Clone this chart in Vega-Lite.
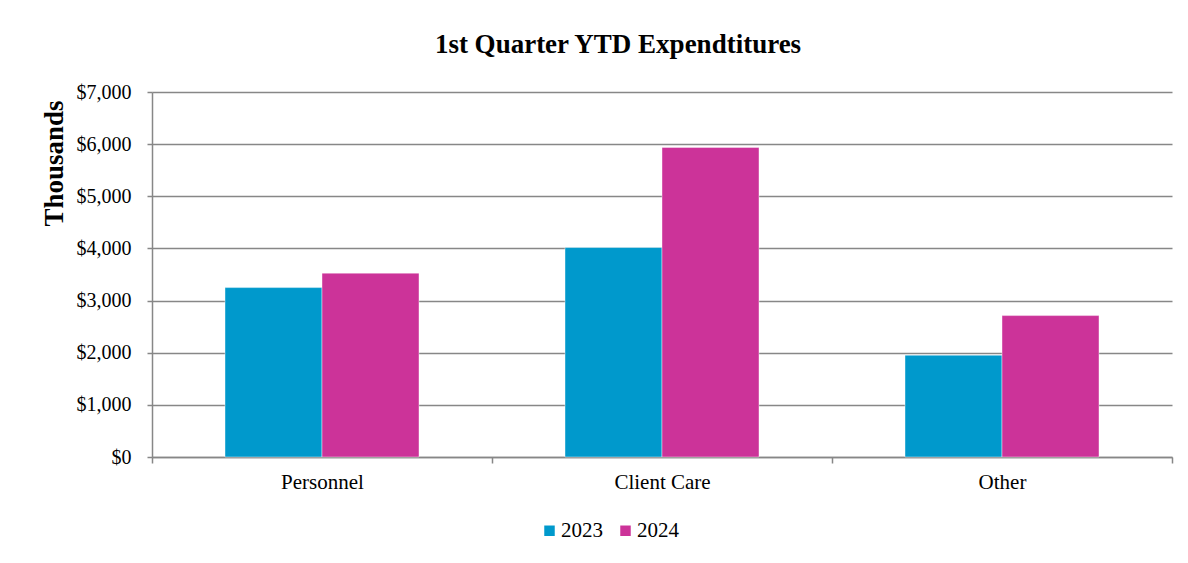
{
  "$schema": "https://vega.github.io/schema/vega-lite/v6.json",
  "width": 1020,
  "height": 365,
  "autosize": {"type": "none"},
  "padding": {"left": 152, "top": 92, "right": 16, "bottom": 106},
  "background": "white",
  "title": {
    "text": "1st Quarter YTD Expendtitures",
    "font": "Liberation Serif",
    "fontSize": 27,
    "fontWeight": "bold",
    "color": "black",
    "anchor": "middle",
    "dx": -44,
    "offset": 23
  },
  "data": {
    "values": [
      {"category": "Personnel", "year": "2023", "value": 3249},
      {"category": "Personnel", "year": "2024", "value": 3526},
      {"category": "Client Care", "year": "2023", "value": 4017},
      {"category": "Client Care", "year": "2024", "value": 5937},
      {"category": "Other", "year": "2023", "value": 1952},
      {"category": "Other", "year": "2024", "value": 2712}
    ]
  },
  "mark": {"type": "bar", "stroke": "white", "strokeWidth": 0.6, "strokeOpacity": 0.7},
  "encoding": {
    "x": {
      "field": "category",
      "type": "nominal",
      "sort": ["Personnel", "Client Care", "Other"],
      "scale": {"paddingInner": 0, "paddingOuter": 0},
      "axis": {
        "title": null,
        "labelAngle": 0,
        "tickBand": "extent",
        "grid": false,
        "labelFont": "Liberation Serif",
        "labelFontSize": 21,
        "labelColor": "black",
        "domainColor": "#878787",
        "domainWidth": 1.5,
        "tickColor": "#878787",
        "tickWidth": 1.5,
        "tickSize": 6,
        "labelPadding": 8
      }
    },
    "xOffset": {
      "field": "year",
      "type": "nominal",
      "sort": ["2023", "2024"],
      "scale": {"paddingInner": 0, "paddingOuter": 0.7526}
    },
    "y": {
      "field": "value",
      "type": "quantitative",
      "scale": {"domain": [0, 7000], "nice": false},
      "axis": {
        "title": "Thousands",
        "titleFont": "Liberation Serif",
        "titleFontSize": 27,
        "titleFontWeight": "bold",
        "titleColor": "black",
        "titleY": 71,
        "titlePadding": 8,
        "values": [0, 1000, 2000, 3000, 4000, 5000, 6000, 7000],
        "format": "$,.0f",
        "labelFont": "Liberation Serif",
        "labelFontSize": 20,
        "labelColor": "black",
        "labelPadding": 16,
        "domainColor": "#878787",
        "domainWidth": 1.5,
        "tickColor": "#878787",
        "tickWidth": 1.5,
        "tickSize": 5,
        "grid": true,
        "gridColor": "#878787",
        "gridWidth": 1.5
      }
    },
    "color": {
      "field": "year",
      "type": "nominal",
      "scale": {"domain": ["2023", "2024"], "range": ["#0099CC", "#CC3399"]},
      "legend": {
        "title": null,
        "orient": "none",
        "direction": "horizontal",
        "legendX": 387,
        "legendY": 428,
        "symbolType": "square",
        "symbolSize": 110,
        "symbolStrokeWidth": 0,
        "labelFont": "Liberation Serif",
        "labelFontSize": 21,
        "labelColor": "black",
        "labelOffset": 1,
        "columnPadding": 12
      }
    }
  },
  "config": {
    "view": {"stroke": null}
  }
}
